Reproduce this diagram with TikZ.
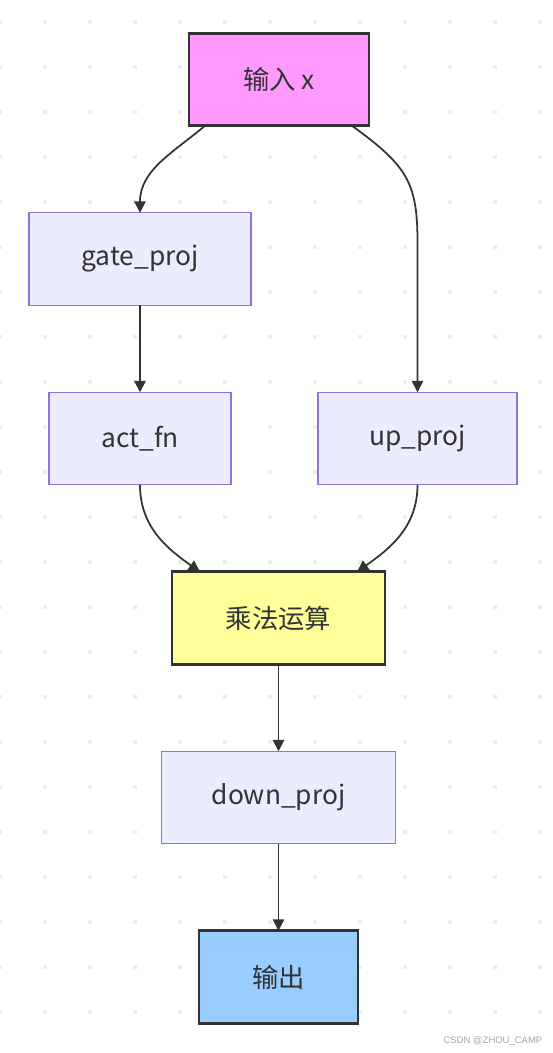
\documentclass[tikz,border=0pt]{standalone}
\usepackage{fontspec}
\newfontfamily\cjk{Noto Sans CJK SC}
\newfontfamily\markfont{Liberation Sans}
\usepackage{tikz}
\usetikzlibrary{arrows.meta,positioning}
\definecolor{linegray}{HTML}{333333}
\definecolor{dotgray}{HTML}{EDEDED}
\definecolor{pinkfill}{HTML}{FF99FF}
\definecolor{yellowfill}{HTML}{FFFF99}
\definecolor{bluefill}{HTML}{99CCFF}
\definecolor{lavender}{HTML}{ECECFF}
\definecolor{lavenderline}{HTML}{9370DB}
\tikzset{
    %Define standard arrow tip
    >={Triangle[length=6.5pt,width=6.5pt]},
    %Define style for plain boxes
    box/.style={
           rectangle,
           fill=lavender,
           draw=lavenderline, line width=0.6pt,
           minimum height=1.85cm,
           outer sep=0pt,
           font=\cjk\fontsize{15}{18}\selectfont,
           text=linegray,
           text centered},
    %Define style for highlighted boxes
    keybox/.style={
           box,
           draw=linegray, line width=1.7pt},
    % Define arrow style
    arrow/.style={
           ->,
           draw=linegray,
           line width=1pt},
    dot/.style={fill=dotgray},
}
\begin{document}
\begin{tikzpicture}
\useasboundingbox (0,0) rectangle (11.06,-21.06);
% background grid of dots
\foreach \i in {0,...,12}
  \foreach \j in {0,...,22}
    \fill[dot] ({0.9*\i-0.045},{-0.44-0.9*\j-0.045}) rectangle ++(0.09,0.09);

  \node[keybox, fill=pinkfill, minimum width=3.6cm] (in) at (5.58,-1.59) {输入 x};
  \node[box, minimum width=4.44cm, below=1.74cm of in, xshift=-2.78cm] (gate) {gate\_proj};
  \node[box, minimum width=3.64cm, below=1.74cm of gate] (act) {act\_fn};
  \node[box, minimum width=3.98cm, right=1.74cm of act] (up) {up\_proj};
  \node[keybox, fill=yellowfill, minimum width=4.26cm, below=1.74cm of act, xshift=2.77cm] (mul) {乘法运算};
  \node[box, minimum width=4.68cm, below=1.74cm of mul] (down) {down\_proj};
  \node[keybox, fill=bluefill, minimum width=3.18cm, below=1.74cm of down] (out) {输出};

  \node[anchor=east, text=gray!70, font=\markfont\fontsize{5.4}{6}\selectfont] (mark) at (10.97,-20.82) {CSDN @ZHOU\_CAMP};

  \path ([xshift=0.32cm]in.south west) edge[arrow, out=-140, in=90] (gate.north);
  \draw[arrow] ([xshift=-0.34cm]in.south east)
        .. controls +(1.1,-0.8) and +(0,1.2) .. ([yshift=3cm]up.north) -- (up.north);
  \path (gate.south) edge[arrow] (act.north);
  \path (act.south) edge[arrow, out=-90, in=145] ([xshift=0.56cm]mul.north west);
  \path (up.south) edge[arrow, out=-90, in=35] ([xshift=-0.56cm]mul.north east);
  \path (mul.south) edge[arrow] (down.north);
  \path (down.south) edge[arrow] (out.north);
\end{tikzpicture}
\end{document}
